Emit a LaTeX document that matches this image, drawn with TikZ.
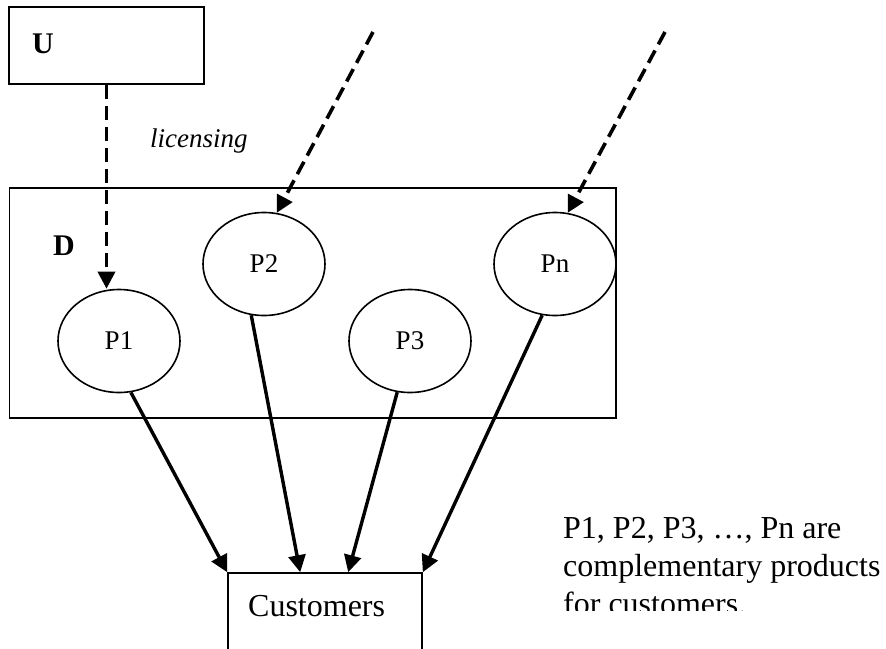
\documentclass[tikz,border=0pt]{standalone}
\usepackage{fontspec}
\setmainfont{Liberation Serif}
\usetikzlibrary{arrows.meta,shapes.geometric}
\begin{document}
\begin{tikzpicture}[x=1pt,y=-1pt,
        box/.style={draw,line width=1.6pt,inner sep=0pt},
        prod/.style={ellipse,draw,line width=1.6pt,minimum width=122pt,minimum height=103pt,inner sep=0pt,font=\fontsize{27pt}{32pt}\selectfont},
        tag/.style={inner sep=0pt,anchor=base west},
        lic/.style={-{Triangle[length=17pt,width=17pt]},line width=3.6pt,dash pattern=on 14pt off 7pt},
        sell/.style={-{Triangle[length=17pt,width=17pt]},line width=3.4pt},
        note/.style={inner sep=0pt,align=left,anchor=north west,font=\fontsize{32pt}{38pt}\selectfont}]
        \useasboundingbox (0,0) rectangle (886,648);
        \node[box,minimum width=195pt,minimum height=77pt] (U) at (106.5,45.5) {};
        \node[tag,font=\fontsize{30pt}{36pt}\selectfont\bfseries] (Ulab) at (32,53) {U};
        \node[box,minimum width=606.5pt,minimum height=230pt] (D) at (312.75,303) {};
        \node[tag,font=\fontsize{30pt}{36pt}\selectfont\bfseries] (Dlab) at (53,255) {D};
        \node[tag,font=\fontsize{27pt}{32pt}\selectfont\itshape] (lic) at (150,147) {licensing};
        \node[prod] (P1) at (119,341) {P1};
        \node[prod] (P2) at (264,264) {P2};
        \node[prod] (P3) at (410,341) {P3};
        \node[prod] (Pn) at (555,264) {Pn};
        \node[box,minimum width=194pt,minimum height=127pt] (cust) at (325,636.5) {};
        \node[tag,font=\fontsize{32pt}{38pt}\selectfont] (custlab) at (248,616) {Customers};
        \coordinate (s2) at (373,32);
        \coordinate (sn) at (665,32);
        \draw[lic] (U.south) -- (U.south |- P1.north);
        \draw[lic] (s2) -- (P2.76);
        \draw[lic] (sn) -- (Pn.76);
        \draw[sell] (P1.-77) -- (cust.north west);
        \draw[sell] (P2.-104) -- ([xshift=73pt]cust.north west);
        \draw[sell] (P3.-104) -- ([xshift=121pt]cust.north west);
        \draw[sell] (Pn.-104) -- (cust.north east);
        \begin{scope}
            \clip (540,490) rectangle (886,610);
            \node[note] (remark) at (563,517) {P1, P2, P3, …, Pn are\\complementary products\\for customers.};
        \end{scope}
    \end{tikzpicture}
\end{document}
